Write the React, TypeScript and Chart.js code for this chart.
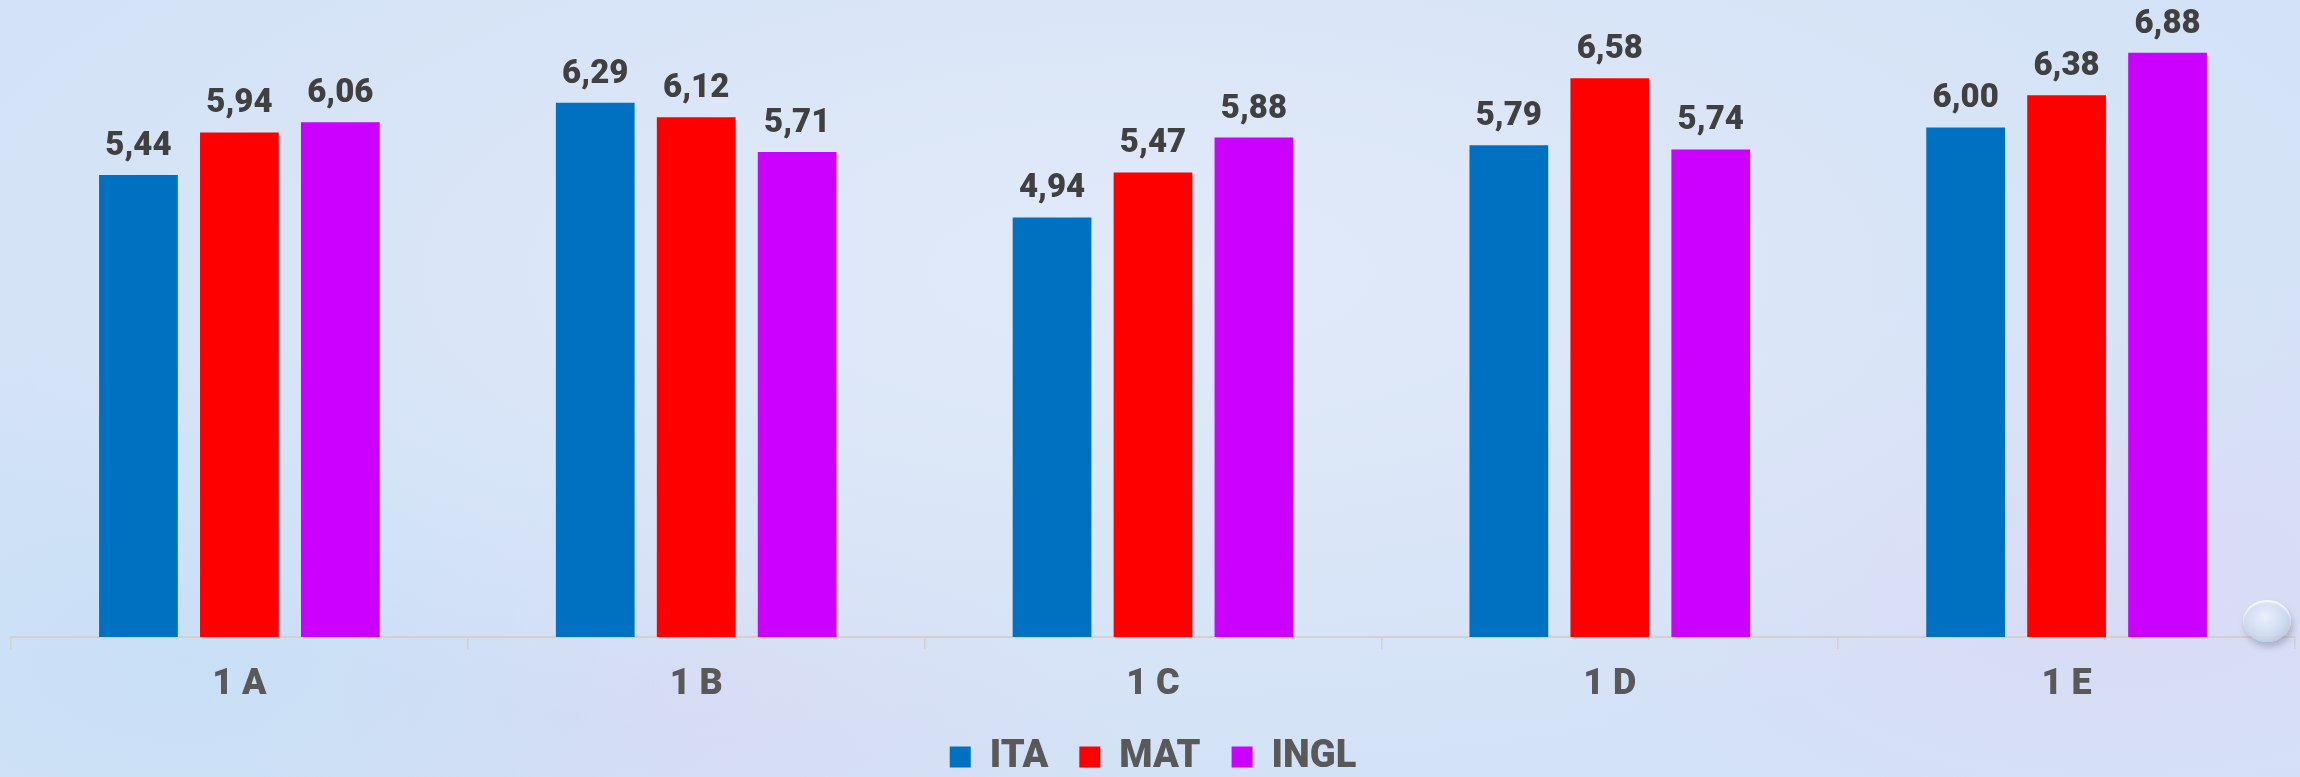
import React, { useEffect, useRef } from "react";
import { Chart, registerables } from "chart.js";

Chart.register(...registerables);

const categories = ["1 A", "1 B", "1 C", "1 D", "1 E"];
const seriesNames = ["ITA", "MAT", "INGL"];
const itaValues = [5.44, 6.29, 4.94, 5.79, 6.0];
const matValues = [5.94, 6.12, 5.47, 6.58, 6.38];
const inglValues = [6.06, 5.71, 5.88, 5.74, 6.88];
const seriesColors = ["#0070C0", "#FF0000", "#CC00FF"];
const yMin = 0;
const yMax = 7.5;

const valueLabels = {
  id: "valueLabels",
  afterDatasetsDraw(chart: any) {
    const ctx = chart.ctx as CanvasRenderingContext2D;
    ctx.save();
    ctx.font = "900 33px Roboto";
    ctx.fillStyle = "#404040";
    ctx.textAlign = "center";
    ctx.textBaseline = "alphabetic";
    chart.data.datasets.forEach((ds: any, i: number) => {
      const meta = chart.getDatasetMeta(i);
      meta.data.forEach((el: any, j: number) => {
        const v = ds.data[j] as number;
        ctx.fillText(v.toFixed(2).replace(".", ","), el.x, el.y - 20);
      });
    });
    ctx.restore();
  },
};

export default function App() {
  const canvasRef = useRef<HTMLCanvasElement | null>(null);

  useEffect(() => {
    if (!canvasRef.current) return;
    const allValues = [itaValues, matValues, inglValues];
    const chart = new Chart(canvasRef.current, {
      type: "bar",
      data: {
        labels: categories,
        datasets: seriesNames.map((name, i) => ({
          label: name,
          data: allValues[i],
          backgroundColor: seriesColors[i],
          borderWidth: 0,
          barPercentage: 0.78,
          categoryPercentage: 0.663,
        })),
      },
      options: {
        responsive: false,
        animation: false,
        events: [],
        layout: { padding: { top: 0, left: 11, right: 5, bottom: -9 } },
        plugins: {
          tooltip: { enabled: false },
          legend: {
            position: "bottom",
            labels: {
              boxWidth: 21,
              boxHeight: 21,
              padding: 31,
              color: "#595959",
              font: { family: "Roboto", weight: "900", size: 38 },
            },
          },
        },
        scales: {
          x: {
            grid: {
              display: true,
              drawOnChartArea: false,
              drawTicks: true,
              tickLength: 12,
              color: "#d4d0cb",
              lineWidth: 1.5,
            },
            border: { display: true, color: "#d4d0cb", width: 2 },
            ticks: {
              color: "#595959",
              font: { family: "Roboto", weight: "900", size: 36 },
              padding: 14,
            },
            afterFit: (s: any) => {
              s.height = 70;
            },
          },
          y: { display: false, min: yMin, max: yMax },
        },
      },
      plugins: [valueLabels],
    } as any);
    return () => chart.destroy();
  }, []);

  return (
    <div
      style={{
        position: "absolute",
        left: 0,
        top: 0,
        width: 2300,
        height: 777,
        overflow: "hidden",
        backgroundColor: "#d3e2f6",
        backgroundImage: [
          "radial-gradient(ellipse 55% 65% at 50% 35%, rgba(226,234,249,0.95) 0%, rgba(226,234,249,0) 100%)",
          "radial-gradient(ellipse 25% 40% at 8% 85%, rgba(196,222,246,0.7) 0%, rgba(196,222,246,0) 100%)",
          "radial-gradient(ellipse 25% 40% at 92% 75%, rgba(222,214,244,0.6) 0%, rgba(222,214,244,0) 100%)",
          "radial-gradient(ellipse 20% 30% at 30% 90%, rgba(218,212,240,0.5) 0%, rgba(218,212,240,0) 100%)",
        ].join(","),
      }}
    >
      <canvas ref={canvasRef} width={2300} height={777} style={{ position: "absolute", left: 0, top: 0 }} />
      <div
        style={{
          position: "absolute",
          left: 2243,
          top: 600,
          width: 48,
          height: 42,
          borderRadius: "50%",
          background:
            "radial-gradient(ellipse at 45% 40%, rgba(235,242,252,0.9) 0%, rgba(205,218,238,0.85) 55%, rgba(160,175,200,0.9) 100%)",
          boxShadow: "2px 5px 6px rgba(90,100,120,0.35), inset 0 2px 2px rgba(255,255,255,0.9)",
        }}
      />
    </div>
  );
}
